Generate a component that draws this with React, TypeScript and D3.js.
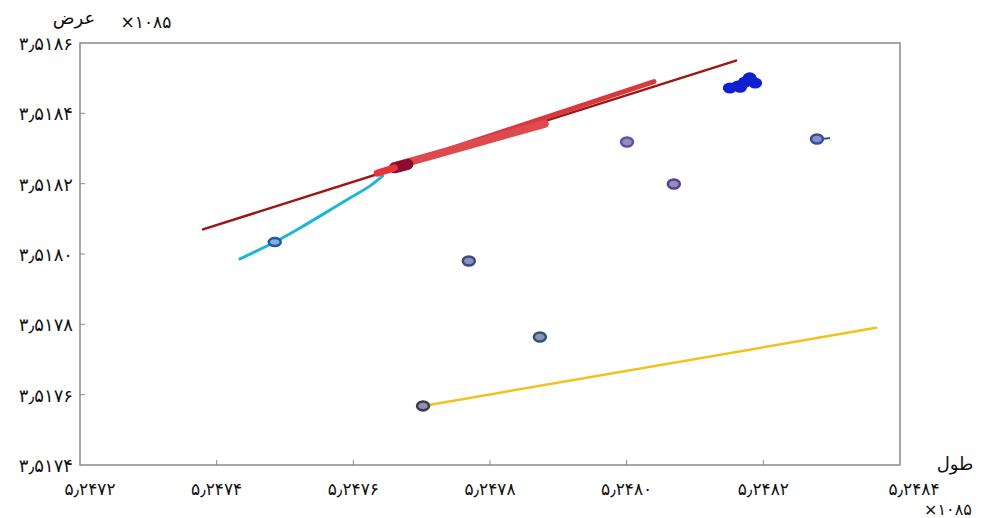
import React from "react";
import * as d3 from "d3";

const W = 983, H = 518;
const xTicks = [5.2472, 5.2474, 5.2476, 5.2478, 5.248, 5.2482, 5.2484];
const yTicks = [3.5174, 3.5176, 3.5178, 3.518, 3.5182, 3.5184, 3.5186];
const xTickLabels = ["۵٫۲۴۷۲", "۵٫۲۴۷۴", "۵٫۲۴۷۶", "۵٫۲۴۷۸", "۵٫۲۴۸۰", "۵٫۲۴۸۲", "۵٫۲۴۸۴"];
const yTickLabels = ["۳٫۵۱۷۴", "۳٫۵۱۷۶", "۳٫۵۱۷۸", "۳٫۵۱۸۰", "۳٫۵۱۸۲", "۳٫۵۱۸۴", "۳٫۵۱۸۶"];
const xTitle = "طول";
const yTitle = "عرض";
const expLabel = "×۱۰۸۵";

// main dark red track
const redLine = [[5.24738, 3.51807], [5.24816, 3.51855]];
// thick red bands
const redBandA = [[5.24765, 3.51824], [5.24804, 3.51849]];
const redBandB = [[5.24766, 3.51825], [5.24788, 3.51837]];
const redBlob = [[5.24766, 3.518245], [5.24768, 3.518255]];
const redTip = [[5.247635, 3.51823], [5.24766, 3.518245]];
// cyan track
const cyanLine = [
  [5.247434, 3.517986], [5.247456, 3.518006], [5.247485, 3.518034], [5.247522, 3.518074],
  [5.247559, 3.518117], [5.247595, 3.518159], [5.247624, 3.518193], [5.247643, 3.518222],
];
const cyanMarker = [5.247485, 3.518034];
// yellow track
const yellowLine = [[5.247702, 3.517568], [5.248365, 3.51779]];
// isolated points
const pointX = [5.2480005, 5.248069, 5.247769, 5.247873, 5.247702, 5.2482785];
const pointY = [3.5183185, 3.518199, 3.51798, 3.517764, 3.517568, 3.518327];
const pointColor = ["#6b4ba8", "#5b3c98", "#3b4a86", "#2c5670", "#3c3c44", "#2f4ea6"];
// blue cluster
const blobX = [5.248151, 5.248163, 5.248173, 5.24818, 5.248188, 5.248166];
const blobY = [3.518472, 3.518478, 3.518489, 3.518501, 3.518486, 3.518474];

const x = d3.scaleLinear().domain([5.2472, 5.2484]).range([80, 900]);
const y = d3.scaleLinear().domain([3.5174, 3.5186]).range([465, 43]);
const line = d3.line<number[]>().x(d => x(d[0])).y(d => y(d[1]));
const curve = d3.line<number[]>().x(d => x(d[0])).y(d => y(d[1])).curve(d3.curveCatmullRom);

export default function App() {
  const font = "'DejaVu Sans', sans-serif";
  return (
    <svg width={W} height={H} style={{ position: "fixed", left: 0, top: 0, background: "#fff" }}>
      <rect x={80} y={43} width={820} height={422} fill="#fff" stroke="#8a8a8a" strokeWidth={1.5} />
      {xTicks.slice(1, -1).map((t, i) => (
        <line key={"xt" + i} x1={x(t)} x2={x(t)} y1={465} y2={460} stroke="#8a8a8a" />
      ))}
      {yTicks.slice(1, -1).map((t, i) => (
        <line key={"yt" + i} x1={80} x2={85} y1={y(t)} y2={y(t)} stroke="#8a8a8a" />
      ))}
      {xTickLabels.map((l, i) => (
        <text key={"xl" + i} x={x(xTicks[i]) + (i === 0 ? 10 : i === xTicks.length - 1 ? 14 : 0)} y={495}
          textAnchor="middle" fontSize={17} fontFamily={font} fill="#111" direction="ltr">{l}</text>
      ))}
      {yTickLabels.map((l, i) => (
        <text key={"yl" + i} x={73} y={y(yTicks[i]) + 7}
          textAnchor="end" fontSize={18} fontFamily={font} fill="#111" direction="ltr">{l}</text>
      ))}
      <text x={74} y={24} textAnchor="middle" fontSize={18} fontFamily={font} fill="#111">{yTitle}</text>
      <text x={146} y={28} textAnchor="middle" fontSize={17} fontFamily={font} fill="#111" direction="ltr">{expLabel}</text>
      <text x={955} y={470} textAnchor="middle" fontSize={18} fontFamily={font} fill="#111">{xTitle}</text>
      <text x={948} y={515} textAnchor="middle" fontSize={16} fontFamily={font} fill="#111" direction="ltr">{expLabel}</text>

      <path d={line(yellowLine) || ""} stroke="#f0c21c" strokeWidth={2.5} fill="none" strokeLinecap="round" />
      <path d={curve(cyanLine) || ""} stroke="#1fb6d6" strokeWidth={3} fill="none" strokeLinecap="round" />
      <ellipse cx={x(cyanMarker[0])} cy={y(cyanMarker[1])} rx={6} ry={4} fill="#7fb0e0" stroke="#1d5aa8" strokeWidth={2.5} />
      <path d={line(redLine) || ""} stroke="#9e1616" strokeWidth={2.5} fill="none" strokeLinecap="round" />
      <path d={line(redBandA) || ""} stroke="#d9383f" strokeWidth={5} fill="none" strokeLinecap="round" />
      <path d={line(redBandB) || ""} stroke="#de4a4e" strokeWidth={8} fill="none" strokeLinecap="round" />
      <path d={line(redBlob) || ""} stroke="#8c0b2e" strokeWidth={11} fill="none" strokeLinecap="round" />
      <path d={line(redTip) || ""} stroke="#e8343c" strokeWidth={7} fill="none" strokeLinecap="round" />

      {blobX.map((v, i) => (
        <ellipse key={"b" + i} cx={x(v)} cy={y(blobY[i])} rx={7} ry={5.5} fill="#1020d0" />
      ))}
      {pointX.map((v, i) => (
        <ellipse key={"p" + i} cx={x(v)} cy={y(pointY[i])} rx={6} ry={4.5} fill="#8f8fb8" stroke={pointColor[i]} strokeWidth={2.5} />
      ))}
      <line x1={x(pointX[5]) + 5} x2={x(pointX[5]) + 13} y1={y(pointY[5])} y2={y(pointY[5]) - 1} stroke={pointColor[5]} strokeWidth={2} />
    </svg>
  );
}
